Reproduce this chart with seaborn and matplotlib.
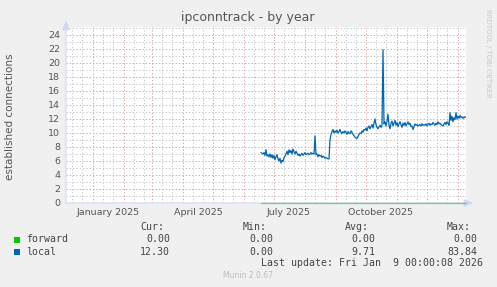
import numpy as np
import pandas as pd
import matplotlib
matplotlib.use("Agg")
import matplotlib.pyplot as plt
import matplotlib.dates as mdates
from matplotlib.patches import Rectangle
import seaborn as sns

# ---------------- data ----------------
title = "ipconntrack - by year"
ylabel = "established connections"
start_date = "2025-06-18"          # first daily sample
x_start, x_end = "2024-12-05", "2026-01-09"

local = [
    7.2, 7.1, 7.0, 7.2, 6.8, 7.6, 6.7,
    6.9, 6.6, 7.0, 6.5, 6.9, 6.4, 6.8, 6.2, 6.6, 6.9, 6.3, 6.0, 6.4,
    5.7, 6.1, 5.9, 6.5, 6.7, 7.0,
    7.4, 6.9, 7.6, 7.2, 7.5, 7.0, 7.7, 7.3, 7.0, 7.4,
    7.1, 6.8, 7.0, 6.7, 6.9, 7.1, 6.8, 7.0, 7.2, 6.9, 7.0, 7.1, 6.9, 7.0, 7.2, 7.0, 7.1, 7.0,
    9.6,
    6.9, 7.0, 6.6, 6.9, 6.7, 6.8, 6.5, 6.7, 6.6, 6.4, 6.5, 6.4, 6.3, 6.3,
    9.0, 9.8, 10.2, 10.5, 10.0, 10.3,
    10.1, 10.4, 10.0, 10.2, 10.5, 10.1, 9.9, 10.2, 10.0, 10.3, 10.1, 9.8, 10.2, 10.0, 9.9,
    10.3, 10.1, 9.8, 9.6, 9.4, 9.3,
    9.2, 9.5, 9.8, 10.0, 9.9, 10.3, 10.1, 10.5, 10.4, 10.7, 10.3, 10.8, 11.0, 10.6, 10.9,
    11.2, 10.7, 11.4, 12.0, 11.2, 10.8, 10.6, 10.9, 11.1, 10.8, 11.0,
    21.9,
    11.3, 11.6, 11.0, 11.7, 12.7, 11.1, 10.6, 11.4, 11.7, 11.0, 11.4, 11.8, 11.1, 11.5, 10.9,
    11.3, 11.6, 11.2, 10.8, 11.4,
    11.1, 11.5, 11.0, 11.3, 11.6, 11.2, 11.4, 10.9, 11.0, 10.5, 10.9, 11.3, 11.1, 11.2, 11.0,
    11.1, 11.2, 11.0, 11.3, 11.1,
    11.2, 11.1, 11.3, 11.0, 11.2, 11.4, 11.1, 11.3, 11.2, 11.5, 11.3, 11.1, 11.4, 11.2, 11.6,
    11.3, 11.4, 11.2, 11.1, 11.0,
    11.3, 11.5, 11.2, 11.6, 11.4, 11.1,
    12.9, 11.8, 12.4, 11.6, 12.2, 11.9, 12.9, 12.0, 12.4, 12.1, 12.5, 12.2, 12.3, 12.1, 12.3,
    12.2, 12.3,
]
forward = [0.0] * len(local)

series_names = ["forward", "local"]
series_colors = ["#00cc00", "#0066b3"]
yticks = list(range(0, 25, 2))
month_labels = ["January 2025", "April 2025", "July 2025", "October 2025"]
month_label_dates = ["2025-01-16", "2025-04-16", "2025-07-16", "2025-10-16"]

legend_cur = ["0.00", "12.30"]
legend_min = ["0.00", "0.00"]
legend_avg = ["0.00", "9.71"]
legend_max = ["0.00", "83.84"]
last_update = "Last update: Fri Jan  9 00:00:08 2026"
version = "Munin 2.0.67"

# ---------------- frame ----------------
dates = pd.date_range(start_date, periods=len(local), freq="D")
df = pd.DataFrame({
    "date": list(dates) * 2,
    "value": forward + local,
    "series": ["forward"] * len(forward) + ["local"] * len(local),
})

sns.set_theme(style="white")
plt.rcParams["font.family"] = ["DejaVu Sans"]

W, H = 497, 287
BG = "#f0f0f0"
fig = plt.figure(figsize=(W / 100, H / 100), dpi=100, facecolor=BG)

L, R, B, T = 66, 466, 203, 27
ax = fig.add_axes([L / W, 1 - B / H, (R - L) / W, (B - T) / H])
ax.set_facecolor("white")

sns.lineplot(data=df, x="date", y="value", hue="series", hue_order=series_names,
             palette=dict(zip(series_names, series_colors)), legend=False,
             linewidth=0.9, ax=ax, estimator=None)
fwd_line = ax.lines[0]
fwd_line.set_clip_on(False)
fwd_line.set_alpha(0.55)
fwd_line.set_zorder(3)

ax.set_xlim(mdates.date2num(pd.Timestamp(x_start)), mdates.date2num(pd.Timestamp(x_end)))
ax.set_ylim(0, 25.14)

# grid
ax.set_yticks(yticks)
ax.set_yticks(list(range(1, 26, 2)), minor=True)
ax.xaxis.set_major_locator(mdates.MonthLocator())
ax.xaxis.set_minor_locator(mdates.DayLocator(bymonthday=[11, 21]))
ax.xaxis.set_major_formatter(matplotlib.ticker.NullFormatter())
ax.xaxis.set_minor_formatter(matplotlib.ticker.NullFormatter())
dots = (0, (1.4, 2.0))
ax.grid(which="minor", color="#c9c9c9", linestyle=dots, linewidth=0.7)
ax.grid(which="major", color="#e4a0a0", linestyle=dots, linewidth=0.7)
ax.set_axisbelow(True)
ax.tick_params(axis="both", which="both", length=0)
ax.tick_params(axis="y", labelsize=6.8, labelcolor="#555555", pad=4.3)
for s in ax.spines.values():
    s.set_visible(False)
ax.set_xlabel("")
ax.set_ylabel("")

for lab, d in zip(month_labels, month_label_dates):
    ax.annotate(lab, xy=(mdates.date2num(pd.Timestamp(d)), 0), xycoords=("data", "axes fraction"),
                xytext=(0, -6.5), textcoords="offset points", ha="center", va="center",
                fontsize=6.8, color="#555555", annotation_clip=False)

# axis lines with arrows
axc = "#cfd6f8"
ax.annotate("", xy=(1.0175, 0), xytext=(0, 0), xycoords="axes fraction",
            arrowprops=dict(arrowstyle="-|>,head_length=0.45,head_width=0.2", color=axc,
                            lw=0.8, shrinkA=0, shrinkB=0), annotation_clip=False, zorder=1)
ax.annotate("", xy=(0, 1.035), xytext=(0, 0), xycoords="axes fraction",
            arrowprops=dict(arrowstyle="-|>,head_length=0.45,head_width=0.2", color=axc,
                            lw=0.8, shrinkA=0, shrinkB=0), annotation_clip=False, zorder=1)

# texts
def fx(x): return x / W
def fy(y): return 1 - y / H

fig.text(fx(248), fy(18), title, ha="center", va="center", fontsize=9, color="#555555")
fig.text(fx(10), fy(117), ylabel, ha="center", va="center", rotation=90, fontsize=7.5, color="#555555")
fig.text(fx(488), fy(53), "RRDTOOL / TOBI OETIKER", ha="center", va="center", rotation=270,
         fontsize=5, color="#c8c8c8")

mono = dict(family="DejaVu Sans Mono", fontsize=7.1, color="#444444", va="center")
for hdr, xl in zip(["Cur:", "Min:", "Avg:", "Max:"], [140, 243, 345, 447]):
    fig.text(fx(xl), fy(227), hdr, ha="left", **mono)
rows_y = [239.5, 251.8]
for i, name in enumerate(series_names):
    y = rows_y[i]
    fig.patches.append(Rectangle((fx(14), fy(y + 3)), 6 / W, 6 / H, transform=fig.transFigure,
                                 facecolor=series_colors[i], edgecolor="none"))
    fig.text(fx(26), fy(y), name, ha="left", **mono)
    for vals, xr in zip([legend_cur, legend_min, legend_avg, legend_max], [170, 273, 375, 477]):
        fig.text(fx(xr), fy(y), vals[i], ha="right", **mono)
fig.text(fx(483), fy(263.5), last_update, ha="right", **mono)
fig.text(fx(248), fy(276), version, ha="center", va="center", fontsize=5.5, color="#bbbbbb")

fig.savefig("out.png", dpi=100, facecolor=BG)
